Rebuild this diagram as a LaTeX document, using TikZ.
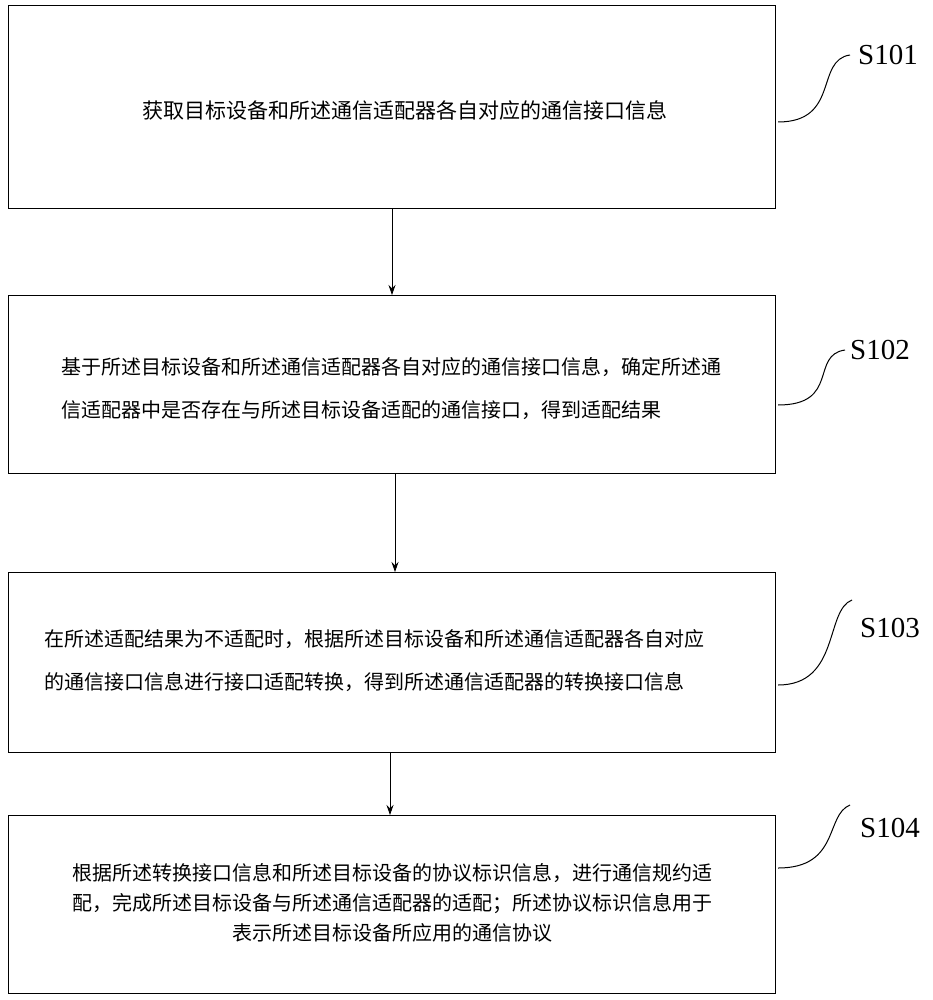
\documentclass[tikz,border=0pt]{standalone}
\usepackage{fontspec}
\setmainfont{Liberation Serif}
\newfontfamily\cjk{Noto Sans CJK SC}
\usetikzlibrary{arrows.meta}
\begin{document}
\begin{tikzpicture}[x=1pt,y=-1pt,
  box/.style={draw,line width=1pt,minimum width=767pt,anchor=north west,inner sep=0pt},
  txt/.style={font=\cjk\fontsize{20}{43}\selectfont},
  arr/.style={-{Stealth[length=10pt,width=7pt]},line width=0.8pt},
  lab/.style={font=\fontsize{29}{30}\selectfont},
  cur/.style={line width=1pt}]
\useasboundingbox (0,0) rectangle (933,1000);
\node[box,minimum height=203pt] (b1) at (8,5) {};
\node[box,minimum height=178pt] (b2) at (8,295) {};
\node[box,minimum height=180pt] (b3) at (8,572) {};
\node[box,minimum height=178pt] (b4) at (8,815) {};
\node[txt,font=\cjk\fontsize{21}{43}\selectfont] (t1) at (405,110) {获取目标设备和所述通信适配器各自对应的通信接口信息};
\node[txt,align=left,anchor=west] (t2) at (58,389) {基于所述目标设备和所述通信适配器各自对应的通信接口信息，确定所述通\\信适配器中是否存在与所述目标设备适配的通信接口，得到适配结果};
\node[txt,align=left,anchor=west] (t3) at (41,661) {在所述适配结果为不适配时，根据所述目标设备和所述通信适配器各自对应\\的通信接口信息进行接口适配转换，得到所述通信适配器的转换接口信息};
\node[txt,align=center,font=\cjk\fontsize{20}{30}\selectfont] (t4) at (392,903) {根据所述转换接口信息和所述目标设备的协议标识信息，进行通信规约适\\配，完成所述目标设备与所述通信适配器的适配；所述协议标识信息用于\\表示所述目标设备所应用的通信协议};
\draw[arr] (b1.south -| 392,0) -- (b2.north -| 392,0);
\draw[arr] (b2.south -| 395,0) -- (b3.north -| 395,0);
\draw[arr] (b3.south -| 390,0) -- (b4.north -| 390,0);
\node[lab] (s1) at (888,55) {S101};
\node[lab] (s2) at (880,350) {S102};
\node[lab] (s3) at (890,628) {S103};
\node[lab] (s4) at (890,828) {S104};
\coordinate (c1) at (778,122); \coordinate (c2) at (778,405);
\coordinate (c3) at (778,685); \coordinate (c4) at (778,868);
\draw[cur] (c1) .. controls (840,122) and (815,60) .. (850,55);
\draw[cur] (c2) .. controls (840,405) and (810,355) .. (845,350);
\draw[cur] (c3) .. controls (840,685) and (825,610) .. (852,600);
\draw[cur] (c4) .. controls (840,868) and (825,815) .. (850,805);
\end{tikzpicture}
\end{document}
